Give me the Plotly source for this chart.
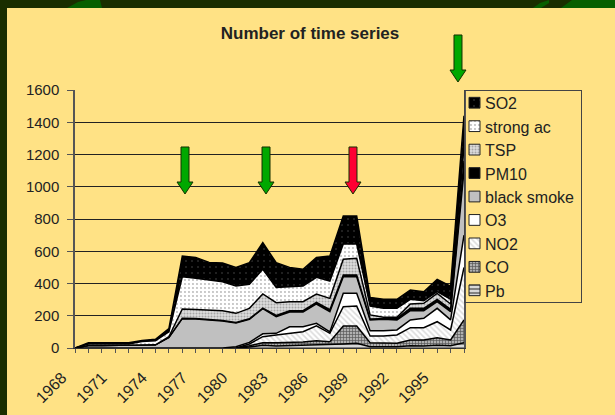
import plotly.graph_objects as go

years = list(range(1968, 1998))
tick_labels = [str(y) if (y - 1968) % 3 == 0 else "" for y in years]
y_ticks = [0, 200, 400, 600, 800, 1000, 1200, 1400, 1600]

Pb = [0,0,0,0,0,0,0,0,0,0,0,0,0,6,17,12,14,17,21,21,25,29,8,8,8,14,12,17,14,33]
CO = [0,0,0,0,0,0,0,0,0,0,0,0,0,8,16,21,19,20,24,18,111,107,25,21,21,36,38,47,36,141]
NO2 = [0,0,0,0,0,0,0,0,0,0,0,0,0,11,37,48,58,64,92,52,120,124,41,45,52,76,76,99,62,326]
O3 = [0,0,0,0,0,0,0,0,0,0,0,0,8,10,18,10,41,31,16,9,83,79,33,33,31,48,58,83,62,200]
black_smoke = [0,16,16,16,16,18,20,66,182,180,174,167,147,143,156,103,91,91,120,125,103,103,67,71,62,57,47,41,51,400]
PM10 = [0,0,0,0,0,0,0,0,3,3,3,3,3,3,3,8,8,8,10,12,10,10,6,6,10,15,15,15,15,60]
TSP = [0,0,0,0,0,0,0,4,57,55,57,61,57,65,88,79,56,56,52,71,98,104,25,6,6,27,31,37,33,90]
strong_ac = [0,9,9,9,9,22,25,31,200,194,188,180,169,149,153,95,93,97,103,107,95,89,55,56,56,29,16,10,29,50]
SO2 = [0,8,8,8,8,7,9,19,128,130,109,116,116,134,165,153,120,104,124,155,173,173,54,56,56,58,56,77,82,140]

series = [
    ("Pb", Pb, dict(shape="-", fgcolor="#000000", bgcolor="#d8d8d8", size=4, solidity=0.4)),
    ("CO", CO, dict(shape="+", fgcolor="#000000", bgcolor="#b0b0b0", size=3, solidity=0.4)),
    ("NO2", NO2, dict(shape="\\", fgcolor="#b8b8b8", bgcolor="#ffffff", size=4, solidity=0.4)),
    ("O3", O3, dict(shape="", bgcolor="#ffffff")),
    ("black smoke", black_smoke, dict(shape="", bgcolor="#c0c0c0")),
    ("PM10", PM10, dict(shape="", bgcolor="#000000")),
    ("TSP", TSP, dict(shape=".", fgcolor="#707070", bgcolor="#dcdcdc", size=3, solidity=0.35)),
    ("strong ac", strong_ac, dict(shape=".", fgcolor="#707070", bgcolor="#ffffff", size=4, solidity=0.18)),
    ("SO2", SO2, dict(shape=".", fgcolor="#909090", bgcolor="#000000", size=6, solidity=0.06)),
]

W, H = 615, 415
L, R, T, B = 75, 464, 90, 348          # main plot box, pixels
LEG_L, LEG_R, LEG_T, LEG_B = 465, 581, 91, 302  # legend box, pixels
BG = "#FFE285"
BAND = "#1A2E00"
LEAF = "#075F00"
FONT = "Liberation Sans"
INK = "#222222"


def px(x):
    return (x - L) / (LEG_R - L)


def py(y):
    return (B - y) / (B - T)


def arrow(cx, top, bottom, color):
    head = bottom - 12
    pts = [(cx - 4, top), (cx + 4, top), (cx + 4, head), (cx + 8, head), (cx, bottom),
           (cx - 8, head), (cx - 4, head)]
    path = "M " + " L ".join(f"{px(a):.4f} {py(b):.4f}" for a, b in pts) + " Z"
    return dict(type="path", xref="paper", yref="paper", path=path, fillcolor=color,
                line=dict(color="#143000", width=1), layer="above")


def rect(x0, y0, x1, y1, color):
    return dict(type="rect", xref="paper", yref="paper", x0=px(x0), x1=px(x1), y0=py(y0), y1=py(y1),
                fillcolor=color, line=dict(width=0), layer="below")


def leaf(pts):
    path = "M " + " L ".join(f"{px(a):.4f} {py(b):.4f}" for a, b in pts) + " Z"
    return dict(type="path", xref="paper", yref="paper", path=path, fillcolor=LEAF,
                line=dict(width=0), layer="below")


fig = go.Figure()
for name, vals, pat in series:
    fig.add_trace(go.Scatter(
        x=years, y=vals, name=name, mode="lines", stackgroup="one",
        line=dict(color="#000000", width=1.5, shape="linear"),
        fillcolor=pat["bgcolor"], fillpattern=pat,
        hoverinfo="skip", showlegend=False,
    ))

# Key drawn as patterned swatches on its own small axes, SO2 first.
legend_names = [s[0] for s in series][::-1]
for name, vals, pat in series:
    fig.add_trace(go.Bar(
        y=[name], x=[11], base=[4], orientation="h", width=0.46,
        xaxis="x2", yaxis="y2", showlegend=False, hoverinfo="skip",
        marker=dict(color=pat["bgcolor"], pattern=pat, line=dict(color="#222222", width=1)),
    ))

annotations = [
    dict(xref="x2", yref="y2", x=18, y=name, text=name, showarrow=False, xanchor="left",
         yshift=-1, font=dict(family=FONT, size=16, color=INK))
    for name in legend_names
]

fig.update_layout(
    width=W, height=H, paper_bgcolor=BG, plot_bgcolor=BG,
    margin=dict(l=L, r=W - LEG_R, t=T, b=H - B, pad=0, autoexpand=False),
    font=dict(family=FONT, size=15, color=INK),
    barmode="overlay",
    title=dict(text="<b>Number of time series</b>", x=310 / W, y=1 - 33 / H, xanchor="center",
               yanchor="middle", automargin=False, font=dict(family=FONT, size=17, color=INK)),
    xaxis=dict(domain=[0, px(R)], range=[1968, 1997], tickmode="array", tickvals=years,
               ticktext=tick_labels, tickangle=-45, ticks="outside", ticklen=4, tickcolor="#555555",
               showgrid=False, zeroline=False, showline=True, linecolor="#333333", linewidth=1,
               mirror=False, automargin=False, ticklabelstandoff=9, ticklabelshift=-13,
               tickfont=dict(size=16, color=INK)),
    yaxis=dict(domain=[0, 1], range=[0, 1600], tickmode="array", tickvals=y_ticks, ticks="outside",
               ticklen=6, tickcolor="#555555", showgrid=True, gridcolor="#222222", gridwidth=1,
               zeroline=False, showline=True, linecolor="#555555", linewidth=1.5, mirror=True,
               automargin=False, ticklabelstandoff=5, tickfont=dict(size=15, color=INK)),
    xaxis2=dict(domain=[px(LEG_L), 1], range=[0, LEG_R - LEG_L], anchor="y2", showgrid=False,
                zeroline=False, showticklabels=False, ticks="", showline=True, linecolor="#444444",
                linewidth=1, mirror=True, fixedrange=True),
    yaxis2=dict(domain=[py(LEG_B), py(LEG_T)], anchor="x2", type="category",
                categoryorder="array", categoryarray=legend_names, autorange="reversed",
                showgrid=False, zeroline=False, showticklabels=False, ticks="", showline=True,
                linecolor="#444444", linewidth=1, mirror=True, fixedrange=True),
    annotations=annotations,
    shapes=[
        rect(0, 0, W, 8, BAND),
        rect(0, 0, 7, H, BAND),
        leaf([(67, 8), (78, 2), (86, 0), (100, 0), (102, 8)]),
        leaf([(533, 8), (540, 3), (549, 0), (549, 3), (541, 8)]),
        leaf([(561, 8), (572, 0), (615, 0), (615, 8)]),
        arrow(185, 147, 194, "#00A800"),
        arrow(266, 147, 194, "#00A800"),
        arrow(353, 147, 194, "#FF0033"),
        arrow(458, 35, 82, "#00A800"),
    ],
)

fig.write_html("out.html", config={"displayModeBar": False},
               post_script="document.body.style.margin='0';document.body.style.overflow='hidden';")
